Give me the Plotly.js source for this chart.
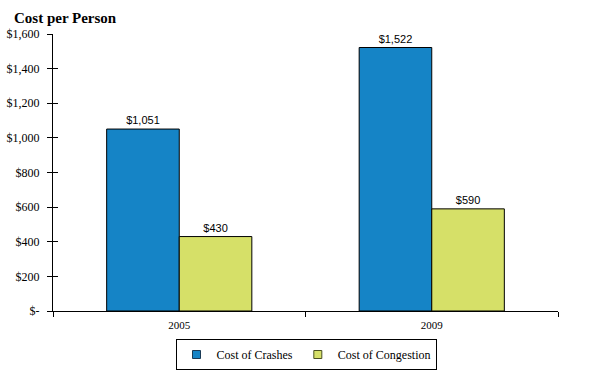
<!DOCTYPE html>
<html>
<head>
<meta charset="utf-8">
<script src="https://cdn.plot.ly/plotly-3.0.1.min.js"></script>
<style>html,body{margin:0;padding:0;background:#fff;}#chart{width:591px;height:378px;}</style>
</head>
<body>
<div id="chart"></div>
<script>
const years = ['2005', '2009'];
const crashes = [1051, 1522];
const congestion = [430, 590];
const crashLabels = ['$1,051', '$1,522'];
const congestionLabels = ['$430', '$590'];
const yTickVals = [0, 200, 400, 600, 800, 1000, 1200, 1400, 1600];
const yTickText = ['$-', '$200', '$400', '$600', '$800', '$1,000', '$1,200', '$1,400', '$1,600'];
const seriesNames = ['Cost of Crashes', 'Cost of Congestion'];
const seriesColors = ['#1584c6', '#d6e068'];

const serif = 'Liberation Serif, DejaVu Serif, serif';
const sans = 'Liberation Sans, DejaVu Sans, sans-serif';

const data = [
  {type: 'bar', name: seriesNames[0], x: years, y: crashes, text: crashLabels,
   textposition: 'outside', cliponaxis: false, showlegend: false,
   textfont: {family: sans, size: 11, color: '#000'},
   marker: {color: seriesColors[0], line: {color: '#000', width: 1}}},
  {type: 'bar', name: seriesNames[1], x: years, y: congestion, text: congestionLabels,
   textposition: 'outside', cliponaxis: false, showlegend: false,
   textfont: {family: sans, size: 11, color: '#000'},
   marker: {color: seriesColors[1], line: {color: '#000', width: 1}}},
  {type: 'scatter', mode: 'markers', name: seriesNames[0], x: years, y: [null, null],
   marker: {symbol: 'square', size: 8, color: seriesColors[0], line: {color: '#1a3a55', width: 1}}},
  {type: 'scatter', mode: 'markers', name: seriesNames[1], x: years, y: [null, null],
   marker: {symbol: 'square', size: 8, color: seriesColors[1], line: {color: '#4a5020', width: 1}}},
  {type: 'scatter', x: years, y: [null, null], yaxis: 'y2', showlegend: false, hoverinfo: 'skip'}
];

const layout = {
  width: 591, height: 378,
  margin: {l: 53, r: 33, t: 34, b: 67, autoexpand: false},
  paper_bgcolor: '#fff', plot_bgcolor: '#fff',
  barmode: 'group', bargap: 0.425, bargroupgap: 0,
  title: {text: '<b>Cost per Person</b>', font: {family: serif, size: 15, color: '#000'},
          x: 14/591, xanchor: 'left', y: 1 - 18/378, yanchor: 'middle'},
  xaxis: {type: 'category', showline: true, linecolor: '#000', linewidth: 1, ticks: 'outside', ticklen: 5,
          tickcolor: '#000', tickson: 'boundaries', showgrid: false, zeroline: false,
          ticklabelstandoff: 4,
          tickfont: {family: serif, size: 11, color: '#000'}},
  yaxis: {range: [0, 1600], tickvals: yTickVals, ticktext: yTickText, showline: true,
          linecolor: '#000', linewidth: 1, ticks: 'outside', ticklen: 5, tickcolor: '#000',
          showgrid: false, zeroline: false, ticklabelstandoff: 5,
          tickfont: {family: serif, size: 12, color: '#000'}},
  yaxis2: {range: [0, 1600], overlaying: 'y', tickvals: yTickVals, showticklabels: false,
           ticks: 'inside', ticklen: 5, tickcolor: '#000', showgrid: false, zeroline: false,
           showline: false},
  legend: {orientation: 'h', x: 253/505, xanchor: 'center', y: -28/277, yanchor: 'top',
           bordercolor: '#000', borderwidth: 1, itemwidth: 30, tracegroupgap: 0,
           font: {family: serif, size: 12, color: '#000'}},
  showlegend: true
};

Plotly.newPlot('chart', data, layout, {displayModeBar: false, staticPlot: true});
</script>
</body>
</html>
